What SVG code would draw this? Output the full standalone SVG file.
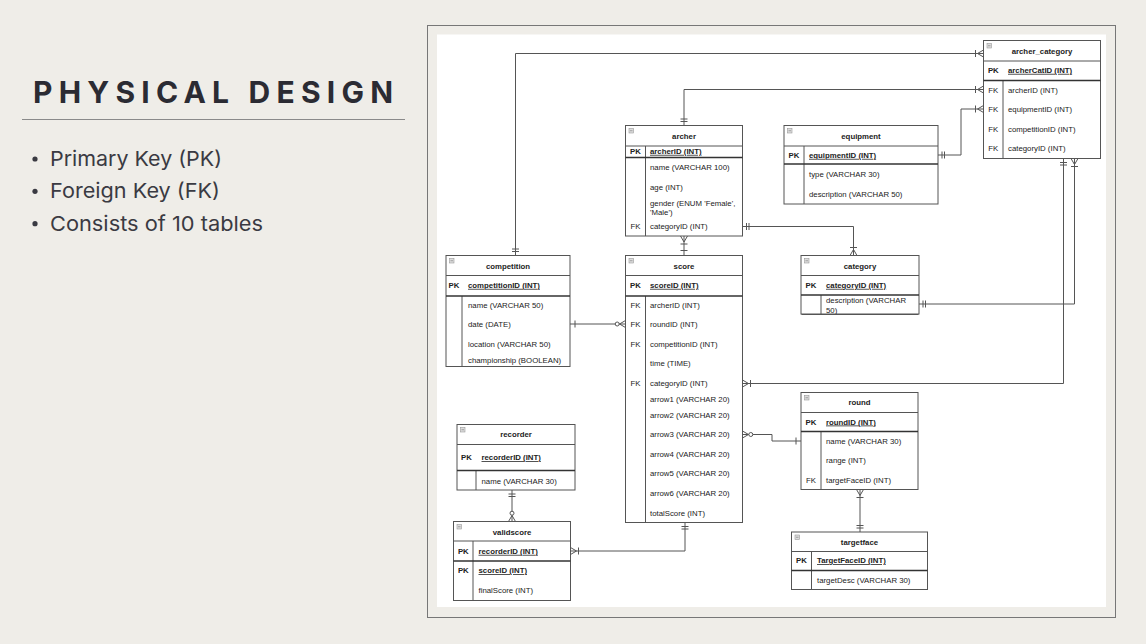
<svg xmlns="http://www.w3.org/2000/svg" xmlns:xlink="http://www.w3.org/1999/xlink" width="1146" height="644" viewBox="0 0 1146 644">
<style>
.box{fill:#fff;stroke:#555;stroke-width:1}
.ln{fill:none;stroke:#555;stroke-width:1}
.pkl{fill:none;stroke:#333;stroke-width:1.6}
.t{font-family:"Liberation Sans",Arial,sans-serif;font-size:7.8px;fill:#222}
.h{font-weight:bold;text-anchor:middle}
.kc{text-anchor:middle}
.kb{font-weight:bold;text-anchor:middle}
.pk{font-weight:bold;text-decoration:underline}
.con{fill:none;stroke:#555;stroke-width:1}
.mk{fill:none;stroke:#555;stroke-width:1}
.bul{font-family:Inter,"Liberation Sans",sans-serif;font-size:20.5px;fill:#3a3a42}
</style>
<defs>
<g id="ic"><rect x="0" y="0" width="4.5" height="4.5" fill="#ddd" stroke="#999" stroke-width="0.6"/><path d="M1,2.25H3.5" stroke="#777" stroke-width="0.6"/></g>
<marker id="one2" markerUnits="userSpaceOnUse" orient="auto-start-reverse" overflow="visible" markerWidth="1" markerHeight="1" refX="0" refY="0"><path class="mk" d="M-4,-3.5V3.5M-6.5,-3.5V3.5"/></marker>
<marker id="one1" markerUnits="userSpaceOnUse" orient="auto-start-reverse" overflow="visible" markerWidth="1" markerHeight="1" refX="0" refY="0"><path class="mk" d="M-5,-3.5V3.5"/></marker>
<marker id="oneMany" markerUnits="userSpaceOnUse" orient="auto-start-reverse" overflow="visible" markerWidth="1" markerHeight="1" refX="0" refY="0"><path class="mk" d="M0,-3.5L-6,0L0,3.5M-8,-3.5V3.5"/></marker>
<marker id="zeroMany" markerUnits="userSpaceOnUse" orient="auto-start-reverse" overflow="visible" markerWidth="1" markerHeight="1" refX="0" refY="0"><path class="mk" d="M0,-3.5L-6,0L0,3.5"/><circle cx="-8.3" cy="0" r="2" fill="#fff" stroke="#555" stroke-width="1"/></marker>
</defs>

<rect x="0" y="0" width="1146" height="644" fill="#efede8"/>

<g id="title">
<text x="33" y="102.5" font-family="Inter,'Liberation Sans',sans-serif" font-size="30" font-weight="bold" fill="#2b2b33" textLength="360" lengthAdjust="spacing">PHYSICAL DESIGN</text>
<path d="M22,119.5H405" stroke="#8a8a8a" stroke-width="1.2"/>
</g>
<g id="bullets">
<circle cx="35" cy="159" r="2.6" fill="#3a3a42"/>
<text class="bul" x="50" y="166" textLength="172" lengthAdjust="spacingAndGlyphs">Primary Key (PK)</text>
<circle cx="35" cy="191.3" r="2.6" fill="#3a3a42"/>
<text class="bul" x="50" y="198.3" textLength="170" lengthAdjust="spacingAndGlyphs">Foreign Key (FK)</text>
<circle cx="35" cy="223.7" r="2.6" fill="#3a3a42"/>
<text class="bul" x="50" y="230.7" textLength="213" lengthAdjust="spacingAndGlyphs">Consists of 10 tables</text>
</g>

<g id="frame">
<rect x="427.5" y="25.5" width="688" height="592" fill="#efede8" stroke="#777" stroke-width="1"/>
<rect x="437" y="34.5" width="669" height="572.5" fill="#fff"/>
</g>

<g id="connectors">
<path class="con" d="M515.5,255.5V53.5H983.5" marker-start="url(#one2)" marker-end="url(#oneMany)"/>
<path class="con" d="M684,125.5V89.5H983.5" marker-start="url(#one2)" marker-end="url(#oneMany)"/>
<path class="con" d="M938,155H961V109H983.5" marker-start="url(#one2)" marker-end="url(#oneMany)"/>
<path class="con" d="M1063.5,158.5V383.5H742.5" marker-start="url(#one2)" marker-end="url(#oneMany)"/>
<path class="con" d="M1074.5,158.5V304H919" marker-start="url(#oneMany)" marker-end="url(#one2)"/>
<path class="con" d="M742.5,226.5H853.5V255.5" marker-start="url(#one2)" marker-end="url(#oneMany)"/>
<path class="con" d="M684,236V255.5" marker-start="url(#oneMany)" marker-end="url(#one1)"/>
<path class="con" d="M570,324H625.5" marker-start="url(#one1)" marker-end="url(#zeroMany)"/>
<path class="con" d="M742.5,434.5H772V441H801" marker-start="url(#zeroMany)" marker-end="url(#one1)"/>
<path class="con" d="M860,489.5V532" marker-start="url(#oneMany)" marker-end="url(#one2)"/>
<path class="con" d="M512,490V521.5" marker-start="url(#one2)" marker-end="url(#zeroMany)"/>
<path class="con" d="M685,522.5V551H570.5" marker-start="url(#one2)" marker-end="url(#oneMany)"/>
</g>

<g id="archer_category">
<rect class="box" x="983.5" y="40.5" width="117" height="118"/>
<path class="ln" d="M983.5,61H1100.5M1003,80.5V158.5"/>
<path class="pkl" d="M983.5,80.5H1100.5"/>
<use xlink:href="#ic" x="987" y="43.5"/>
<text class="t h" x="1042" y="53.8">archer_category</text>
<text class="t kb" x="993.3" y="72.8">PK</text>
<text class="t pk" x="1008" y="72.8">archerCatID (INT)</text>
<text class="t kc" x="993.3" y="92.8">FK</text><text class="t" x="1008" y="92.8">archerID (INT)</text>
<text class="t kc" x="993.3" y="111.8">FK</text><text class="t" x="1008" y="111.8">equipmentID (INT)</text>
<text class="t kc" x="993.3" y="131.8">FK</text><text class="t" x="1008" y="131.8">competitionID (INT)</text>
<text class="t kc" x="993.3" y="150.8">FK</text><text class="t" x="1008" y="150.8">categoryID (INT)</text>
</g>

<g id="archer">
<rect class="box" x="625.5" y="125.5" width="117" height="110.5"/>
<path class="ln" d="M625.5,146H742.5M645.5,146V236"/>
<path class="pkl" d="M625.5,157.5H742.5"/>
<use xlink:href="#ic" x="629" y="128.5"/>
<text class="t h" x="684" y="138.5">archer</text>
<text class="t kb" x="635.5" y="153.8">PK</text>
<text class="t pk" x="650" y="153.8">archerID (INT)</text>
<text class="t" x="650" y="169.8">name (VARCHAR 100)</text>
<text class="t" x="650" y="189.8">age (INT)</text>
<text class="t" x="650" y="205.8">gender (ENUM 'Female',</text>
<text class="t" x="650" y="214.8">'Male')</text>
<text class="t kc" x="635.5" y="228.8">FK</text><text class="t" x="650" y="228.8">categoryID (INT)</text>
</g>

<g id="equipment">
<rect class="box" x="784" y="125.5" width="154" height="78.5"/>
<path class="ln" d="M784,146H938M804,146V204"/>
<path class="pkl" d="M784,164H938"/>
<use xlink:href="#ic" x="787.5" y="128.5"/>
<text class="t h" x="861" y="138.5">equipment</text>
<text class="t kb" x="794" y="157.8">PK</text>
<text class="t pk" x="809" y="157.8">equipmentID (INT)</text>
<text class="t" x="809" y="176.8">type (VARCHAR 30)</text>
<text class="t" x="809" y="196.8">description (VARCHAR 50)</text>
</g>

<g id="competition">
<rect class="box" x="446" y="255.5" width="124" height="111"/>
<path class="ln" d="M446,275.5H570M462,296V366.5"/>
<path class="pkl" d="M446,296H570"/>
<use xlink:href="#ic" x="449.5" y="258.5"/>
<text class="t h" x="508" y="268.5">competition</text>
<text class="t kb" x="454" y="287.8">PK</text>
<text class="t pk" x="468" y="287.8">competitionID (INT)</text>
<text class="t" x="468" y="307.8">name (VARCHAR 50)</text>
<text class="t" x="468" y="326.8">date (DATE)</text>
<text class="t" x="468" y="346.8">location (VARCHAR 50)</text>
<text class="t" x="468" y="362.8">championship (BOOLEAN)</text>
</g>

<g id="score">
<rect class="box" x="625.5" y="255.5" width="117" height="267"/>
<path class="ln" d="M625.5,275.5H742.5M645.5,296V522.5"/>
<path class="pkl" d="M625.5,296H742.5"/>
<use xlink:href="#ic" x="629" y="258.5"/>
<text class="t h" x="684" y="268.5">score</text>
<text class="t kb" x="635.5" y="287.8">PK</text>
<text class="t pk" x="650" y="287.8">scoreID (INT)</text>
<text class="t kc" x="635.5" y="307.8">FK</text><text class="t" x="650" y="307.8">archerID (INT)</text>
<text class="t kc" x="635.5" y="326.8">FK</text><text class="t" x="650" y="326.8">roundID (INT)</text>
<text class="t kc" x="635.5" y="346.8">FK</text><text class="t" x="650" y="346.8">competitionID (INT)</text>
<text class="t" x="650" y="365.8">time (TIME)</text>
<text class="t kc" x="635.5" y="385.5">FK</text><text class="t" x="650" y="385.5">categoryID (INT)</text>
<text class="t" x="650" y="401.8">arrow1 (VARCHAR 20)</text>
<text class="t" x="650" y="417.8">arrow2 (VARCHAR 20)</text>
<text class="t" x="650" y="436.8">arrow3 (VARCHAR 20)</text>
<text class="t" x="650" y="456.8">arrow4 (VARCHAR 20)</text>
<text class="t" x="650" y="475.8">arrow5 (VARCHAR 20)</text>
<text class="t" x="650" y="495.8">arrow6 (VARCHAR 20)</text>
<text class="t" x="650" y="515.5">totalScore (INT)</text>
</g>

<g id="category">
<rect class="box" x="801" y="255.5" width="118" height="58.5"/>
<path class="ln" d="M801,275.5H919M821,295V314"/>
<path class="pkl" d="M801,295H919"/>
<use xlink:href="#ic" x="804.5" y="258.5"/>
<text class="t h" x="860" y="268.8">category</text>
<text class="t kb" x="811" y="287.8">PK</text>
<text class="t pk" x="826" y="287.8">categoryID (INT)</text>
<text class="t" x="826" y="302.8">description (VARCHAR</text>
<text class="t" x="826" y="312.8">50)</text>
<path d="M801.5,314.5H918.5" stroke="#555" stroke-width="1"/>
</g>

<g id="round">
<rect class="box" x="801" y="392.5" width="117" height="97"/>
<path class="ln" d="M801,412.5H918M821,431.5V489.5"/>
<path class="pkl" d="M801,431.5H918"/>
<use xlink:href="#ic" x="804.5" y="395.5"/>
<text class="t h" x="859.5" y="405">round</text>
<text class="t kb" x="811" y="424.5">PK</text>
<text class="t pk" x="826" y="424.5">roundID (INT)</text>
<text class="t" x="826" y="443.8">name (VARCHAR 30)</text>
<text class="t" x="826" y="462.8">range (INT)</text>
<text class="t kc" x="811" y="482.8">FK</text><text class="t" x="826" y="482.8">targetFaceID (INT)</text>
</g>

<g id="recorder">
<rect class="box" x="457" y="424.5" width="118" height="65.5"/>
<path class="ln" d="M457,444.5H575M476,470.5V490"/>
<path class="pkl" d="M457,470.5H575"/>
<use xlink:href="#ic" x="460.5" y="427.5"/>
<text class="t h" x="516" y="437">recorder</text>
<text class="t kb" x="466.5" y="460">PK</text>
<text class="t pk" x="481.5" y="460">recorderID (INT)</text>
<text class="t" x="481.5" y="483.5">name (VARCHAR 30)</text>
</g>

<g id="validscore">
<rect class="box" x="453.5" y="521.5" width="117" height="79"/>
<path class="ln" d="M453.5,541H570.5M473,541V600.5"/>
<path class="pkl" d="M453.5,561H570.5"/>
<use xlink:href="#ic" x="457" y="524.5"/>
<text class="t h" x="512" y="534.8">validscore</text>
<text class="t kb" x="463.3" y="553.8">PK</text>
<text class="t pk" x="478.5" y="553.8">recorderID (INT)</text>
<text class="t kb" x="463.3" y="573">PK</text>
<text class="t pk" x="478.5" y="573">scoreID (INT)</text>
<text class="t" x="478.5" y="592.8">finalScore (INT)</text>
</g>

<g id="targetface">
<rect class="box" x="791.5" y="532" width="136" height="57.5"/>
<path class="ln" d="M791.5,551.5H927.5M811.5,551.5V589.5"/>
<path class="pkl" d="M791.5,570.5H927.5"/>
<use xlink:href="#ic" x="795" y="535"/>
<text class="t h" x="859.5" y="545">targetface</text>
<text class="t kb" x="801.5" y="563">PK</text>
<text class="t pk" x="817" y="563">TargetFaceID (INT)</text>
<text class="t" x="817" y="582.8">targetDesc (VARCHAR 30)</text>
</g>
</svg>
